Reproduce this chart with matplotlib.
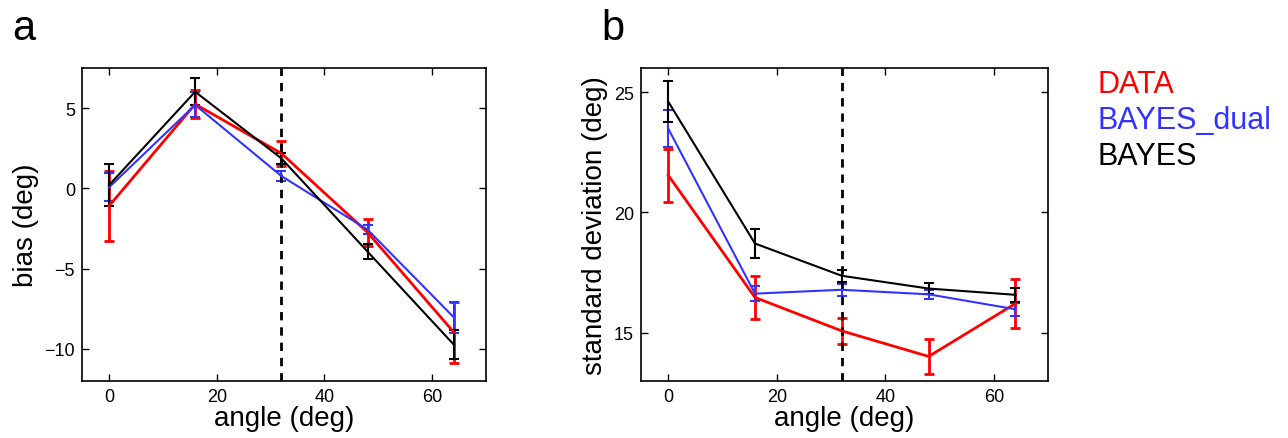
import numpy as np
import matplotlib.pyplot as plt

plt.rcParams['font.family'] = ['Liberation Sans', 'DejaVu Sans']

angles = [0, 16, 32, 48, 64]

# panel a: bias (deg)
bias_data = [-1.1, 5.25, 2.18, -2.74, -8.96]
bias_data_err = [2.2, 0.88, 0.8, 0.86, 1.9]
bias_dual = [0.06, 5.2, 0.77, -2.57, -8.03]
bias_dual_err = [0.87, 0.78, 0.33, 0.3, 0.97]
bias_bayes = [0.2, 6.02, 1.87, -3.94, -9.73]
bias_bayes_err = [1.3, 0.83, 0.35, 0.47, 0.9]

# panel b: standard deviation (deg)
sd_data = [21.55, 16.47, 15.08, 14.02, 16.22]
sd_data_err = [1.1, 0.9, 0.55, 0.73, 1.0]
sd_dual = [23.49, 16.63, 16.79, 16.6, 15.98]
sd_dual_err = [0.78, 0.3, 0.25, 0.18, 0.26]
sd_bayes = [24.61, 18.71, 17.37, 16.84, 16.58]
sd_bayes_err = [0.87, 0.6, 0.26, 0.22, 0.29]

boundary = 32
names = ['DATA', 'BAYES_dual', 'BAYES']
colors = ['#ff0000', '#3333ff', '#000000']
widths = [2.0, 1.5, 1.5]

fig = plt.figure(figsize=(12.88, 4.39), dpi=100)
ax_a = fig.add_axes([0.0637, 0.1298, 0.3137, 0.713])
ax_b = fig.add_axes([0.4977, 0.1298, 0.316, 0.713])


def panel(ax, series, ylim, yticks, ylabel):
    for (y, e), c, lw in zip(series, colors, widths):
        ax.errorbar(angles, y, yerr=e, color=c, lw=lw, elinewidth=lw,
                    capsize=3.5, capthick=lw)
    ax.axvline(boundary, color='k', ls=(0, (3, 2.5)), lw=2)
    ax.set_xlim(-5, 70)
    ax.set_ylim(*ylim)
    ax.set_xticks([0, 20, 40, 60])
    ax.set_yticks(yticks)
    ax.tick_params(direction='in', top=True, right=True, length=5,
                   width=1, labelsize=13, pad=5)
    for s in ax.spines.values():
        s.set_linewidth(1.2)
    ax.set_xlabel('angle (deg)', fontsize=20, labelpad=0)
    ax.set_ylabel(ylabel, fontsize=20, labelpad=4)


panel(ax_a, [(bias_data, bias_data_err), (bias_dual, bias_dual_err),
             (bias_bayes, bias_bayes_err)],
      (-12, 7.5), [-10, -5, 0, 5], 'bias (deg)')
panel(ax_b, [(sd_data, sd_data_err), (sd_dual, sd_dual_err),
             (sd_bayes, sd_bayes_err)],
      (13, 26), [15, 20, 25], 'standard deviation (deg)')

fig.text(12 / 1288, 1 - 40 / 439, 'a', fontsize=30)
fig.text(601 / 1288, 1 - 40 / 439, 'b', fontsize=30)

for i, (n, c) in enumerate(zip(names, colors)):
    fig.text(1097 / 1288, 1 - (93 + 36 * i) / 439, n, color=c, fontsize=22)

fig.savefig('out.png', dpi=100)
